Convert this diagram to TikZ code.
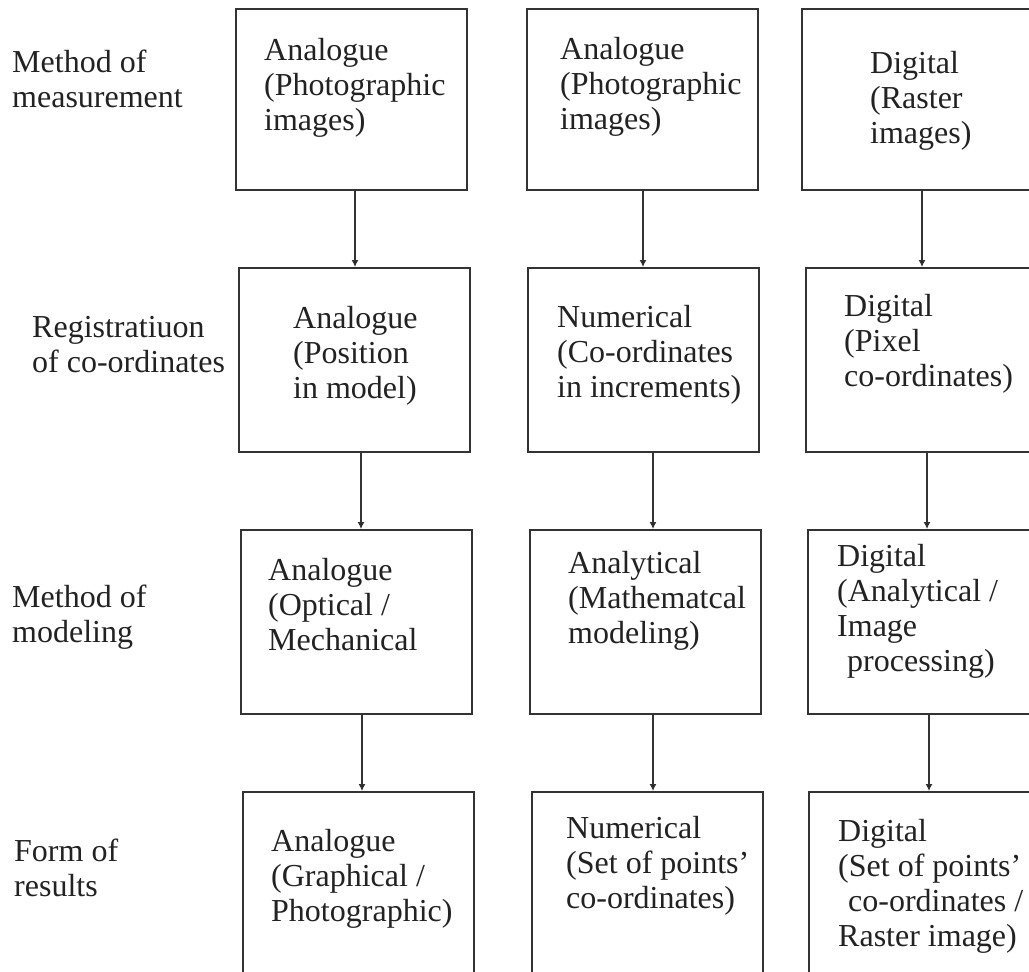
\documentclass[tikz,border=0pt]{standalone}
\usepackage{fontspec}
\setmainfont{Liberation Serif}
\usetikzlibrary{arrows.meta}
\newcommand\mlines[1]{\begin{tabular}[t]{@{}l@{}}#1\end{tabular}}
\definecolor{ink}{HTML}{222222}
\definecolor{edge}{HTML}{333333}
\begin{document}
\begin{tikzpicture}[x=1pt,y=-1pt,
  box/.style={draw=edge,line width=1.8pt,rectangle,minimum width=231pt,inner sep=0pt},
  r1/.style={box,minimum height=181pt},
  r2/.style={box,minimum height=184pt},
  txt/.style={anchor=base west,inner sep=0pt,text=ink,font=\fontsize{32}{35}\selectfont},
  arr/.style={draw=edge,line width=1.5pt,-{Latex[length=7pt,width=7pt,fill=black]}}]
\useasboundingbox (0,0) rectangle (1029,972);
\clip (0,0) rectangle (1029,972);
% row labels
\node[txt] (L1) at (12,72) {\mlines{Method of\\measurement}};
\node[txt] (L2) at (32,337) {\mlines{Registratiuon\\of co-ordinates}};
\node[txt] (L3) at (12,607) {\mlines{Method of\\modeling}};
\node[txt] (L4) at (14,861) {\mlines{Form of\\results}};
% boxes
\node[r1] (A1) at (351.5,99.5) {};
\node[r1] (B1) at (642.5,99.5) {};
\node[r1] (C1) at (917.5,99.5) {};
\node[r2] (A2) at (354.5,360) {};
\node[r2] (B2) at (643.5,360) {};
\node[r2] (C2) at (921.5,360) {};
\node[r2] (A3) at (356.5,622) {};
\node[r2] (B3) at (645.5,622) {};
\node[r2] (C3) at (923.5,622) {};
\node[r2] (A4) at (358.5,884) {};
\node[r2] (B4) at (647.5,884) {};
\node[r2] (C4) at (924.5,884) {};
% box texts
\node[txt] (tA1) at (264,60) {\mlines{Analogue\\(Photographic\\images)}};
\node[txt] (tB1) at (560,59) {\mlines{Analogue\\(Photographic\\images)}};
\node[txt] (tC1) at (870,73) {\mlines{Digital\\(Raster\\images)}};
\node[txt] (tA2) at (293,328) {\mlines{Analogue\\(Position\\in model)}};
\node[txt] (tB2) at (557,327) {\mlines{Numerical\\(Co-ordinates\\in increments)}};
\node[txt] (tC2) at (844,316) {\mlines{Digital\\(Pixel\\co-ordinates)}};
\node[txt] (tA3) at (268,580) {\mlines{Analogue\\(Optical /\\Mechanical}};
\node[txt] (tB3) at (568,573) {\mlines{Analytical\\(Mathematcal\\modeling)}};
\node[txt] (tC3) at (837,566) {\mlines{Digital\\(Analytical /\\Image\\\hspace{10pt}processing)}};
\node[txt] (tA4) at (271,851) {\mlines{Analogue\\(Graphical /\\Photographic)}};
\node[txt] (tB4) at (566,838) {\mlines{Numerical\\(Set of points’\\co-ordinates)}};
\node[txt] (tC4) at (838,841) {\mlines{Digital\\(Set of points’\\\hspace{10pt}co-ordinates /\\Raster image)}};
% connectors
\draw[arr] ([xshift=3.5pt]A1.south) -- ([xshift=3.5pt]A1.south |- A2.north);
\draw[arr] ([xshift=6.5pt]A2.south) -- ([xshift=6.5pt]A2.south |- A3.north);
\draw[arr] ([xshift=5.5pt]A3.south) -- ([xshift=5.5pt]A3.south |- A4.north);
\draw[arr] ([xshift=0.5pt]B1.south) -- ([xshift=0.5pt]B1.south |- B2.north);
\draw[arr] ([xshift=9.5pt]B2.south) -- ([xshift=9.5pt]B2.south |- B3.north);
\draw[arr] ([xshift=7.5pt]B3.south) -- ([xshift=7.5pt]B3.south |- B4.north);
\draw[arr] ([xshift=4.5pt]C1.south) -- ([xshift=4.5pt]C1.south |- C2.north);
\draw[arr] ([xshift=5.5pt]C2.south) -- ([xshift=5.5pt]C2.south |- C3.north);
\draw[arr] ([xshift=5.5pt]C3.south) -- ([xshift=5.5pt]C3.south |- C4.north);
\end{tikzpicture}
\end{document}
